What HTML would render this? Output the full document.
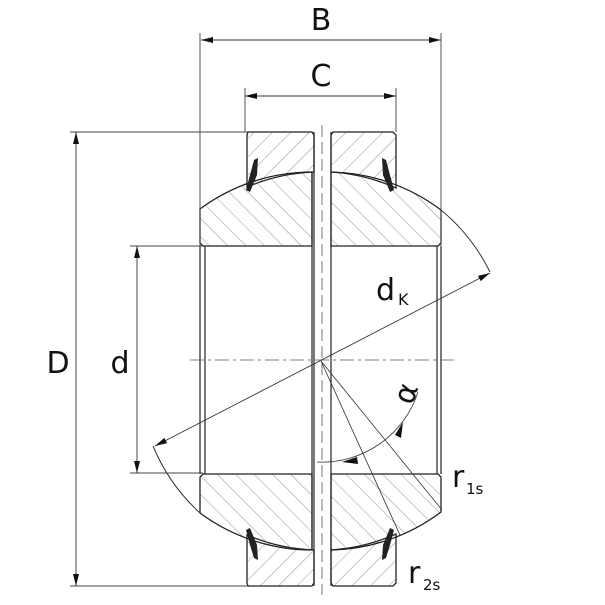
<!DOCTYPE html>
<html><head><meta charset="utf-8"><style>
html,body{margin:0;padding:0;background:#fff;}
svg{display:block;}
text{font-family:"DejaVu Sans","Liberation Sans",sans-serif;fill:#111;}
</style></head><body>
<svg width="605" height="605" viewBox="0 0 605 605" xmlns="http://www.w3.org/2000/svg">
<defs>
<pattern id="h1" patternUnits="userSpaceOnUse" width="13" height="13" patternTransform="rotate(45)">
<line x1="0" y1="0" x2="0" y2="13" stroke="#777" stroke-width="0.8"/></pattern>
<pattern id="h2" patternUnits="userSpaceOnUse" width="13" height="13" patternTransform="rotate(-45)">
<line x1="0" y1="0" x2="0" y2="13" stroke="#777" stroke-width="0.8"/></pattern>
<marker id="ar" viewBox="0 0 12 6" refX="12" refY="3" markerWidth="14" markerHeight="6" markerUnits="userSpaceOnUse" orient="auto-start-reverse">
<path d="M0,0 L12,3 L0,6 Z" fill="#111"/></marker>
</defs>

<!-- outer ring -->
<path d="M248,132 H312 L314,135 V172 A189 189 0 0 0 247,187 V135 Z" fill="url(#h1)" stroke="#222" stroke-width="1.3"/>
<path d="M333,132 H393 L396,135 V188 A189 189 0 0 0 331,172 V135 Z" fill="url(#h1)" stroke="#222" stroke-width="1.3"/>
<path d="M248,586 H312 L314,583 V550 A189 189 0 0 1 247,535 V583 Z" fill="url(#h1)" stroke="#222" stroke-width="1.3"/>
<path d="M333,586 H393 L396,583 V534 A189 189 0 0 1 331,550 V583 Z" fill="url(#h1)" stroke="#222" stroke-width="1.3"/>
<!-- inner ring -->
<path d="M203,246 H312 V172 A189 189 0 0 0 200,209 V243 Z" fill="url(#h2)" stroke="#222" stroke-width="1.3"/>
<path d="M331,246 H438 L441,243 V210 A189 189 0 0 0 331,172 Z" fill="url(#h2)" stroke="#222" stroke-width="1.3"/>
<path d="M203,474 H312 V550 A189 189 0 0 1 200,513 V477 Z" fill="url(#h2)" stroke="#222" stroke-width="1.3"/>
<path d="M331,474 H438 L441,477 V512 A189 189 0 0 1 331,550 Z" fill="url(#h2)" stroke="#222" stroke-width="1.3"/>
<!-- groove -->
<line x1="314" y1="132" x2="314" y2="586" stroke="#222" stroke-width="1.2"/>
<line x1="331" y1="132" x2="331" y2="586" stroke="#222" stroke-width="1.2"/>
<line x1="312" y1="172" x2="312" y2="550" stroke="#222" stroke-width="1.2"/>
<!-- bore lines -->
<line x1="200" y1="246" x2="200" y2="474" stroke="#222" stroke-width="1.2"/>
<line x1="205" y1="246" x2="205" y2="474" stroke="#222" stroke-width="1.2"/>
<line x1="437" y1="246" x2="437" y2="474" stroke="#222" stroke-width="1.2"/>
<line x1="441" y1="246" x2="441" y2="474" stroke="#222" stroke-width="1.2"/>
<!-- seals -->
<path d="M254,160 L258,158 L257,175 L250,192 L246,190 L250,175 Z" fill="#222"/>
<path d="M386,160 L382,158 L383,175 L390,192 L394,190 L390,175 Z" fill="#222"/>
<path d="M254,558 L258,560 L257,545 L250,528 L246,530 L250,545 Z" fill="#222"/>
<path d="M386,558 L382,560 L383,545 L390,528 L394,530 L390,545 Z" fill="#222"/>
<!-- extended sphere arcs -->
<path d="M441,210 A189 189 0 0 1 490,272" fill="none" stroke="#333" stroke-width="1"/>
<path d="M153,446 A189 189 0 0 0 200,513" fill="none" stroke="#333" stroke-width="1"/>
<!-- center lines -->
<line x1="190" y1="360" x2="455" y2="360" stroke="#555" stroke-width="0.8" stroke-dasharray="14,4,3,4"/>
<line x1="322" y1="125" x2="322" y2="595" stroke="#555" stroke-width="0.8" stroke-dasharray="12,5"/>
<!-- dk line -->
<line x1="155" y1="446" x2="490" y2="273" stroke="#333" stroke-width="0.9" marker-start="url(#ar)" marker-end="url(#ar)"/>
<!-- r lines -->
<line x1="321" y1="361" x2="400" y2="535" stroke="#333" stroke-width="0.8"/>
<line x1="321" y1="361" x2="442" y2="510" stroke="#333" stroke-width="0.8"/>
<!-- alpha arc -->
<path d="M317,462 A101 101 0 0 0 418,392" fill="none" stroke="#333" stroke-width="0.8"/>
<path d="M342,462 L357,457 L358,464 Z" fill="#111"/>
<path d="M403,422 L395,435 L401,438 Z" fill="#111"/>
<!-- extension lines -->
<line x1="200" y1="33" x2="200" y2="246" stroke="#444" stroke-width="0.9"/>
<line x1="441" y1="33" x2="441" y2="246" stroke="#444" stroke-width="0.9"/>
<line x1="245" y1="88" x2="245" y2="132" stroke="#444" stroke-width="0.9"/>
<line x1="396" y1="88" x2="396" y2="132" stroke="#444" stroke-width="0.9"/>
<line x1="70" y1="132" x2="248" y2="132" stroke="#444" stroke-width="0.9"/>
<line x1="70" y1="586" x2="248" y2="586" stroke="#444" stroke-width="0.9"/>
<line x1="130" y1="246" x2="203" y2="246" stroke="#444" stroke-width="0.9"/>
<line x1="130" y1="473" x2="203" y2="473" stroke="#444" stroke-width="0.9"/>
<!-- dimension lines -->
<line x1="201" y1="40" x2="441" y2="40" stroke="#333" stroke-width="0.9" marker-start="url(#ar)" marker-end="url(#ar)"/>
<line x1="245" y1="96" x2="396" y2="96" stroke="#333" stroke-width="0.9" marker-start="url(#ar)" marker-end="url(#ar)"/>
<line x1="76" y1="132" x2="76" y2="586" stroke="#333" stroke-width="0.9" marker-start="url(#ar)" marker-end="url(#ar)"/>
<line x1="137" y1="246" x2="137" y2="473" stroke="#333" stroke-width="0.9" marker-start="url(#ar)" marker-end="url(#ar)"/>
<!-- labels -->
<text x="321" y="30" font-size="30" text-anchor="middle">B</text>
<text x="321" y="86" font-size="30" text-anchor="middle">C</text>
<text x="58" y="373" font-size="30" text-anchor="middle">D</text>
<text x="120" y="373" font-size="30" text-anchor="middle">d</text>
<text x="376" y="300" font-size="30">d</text><text x="398" y="305" font-size="16">K</text>
<text x="0" y="0" font-size="30" transform="translate(412,406) rotate(-70)">α</text>
<text x="452" y="487" font-size="30">r</text><text x="466" y="494" font-size="15">1s</text>
<text x="408" y="583" font-size="30">r</text><text x="423" y="590" font-size="15">2s</text>
</svg>
</body></html>
